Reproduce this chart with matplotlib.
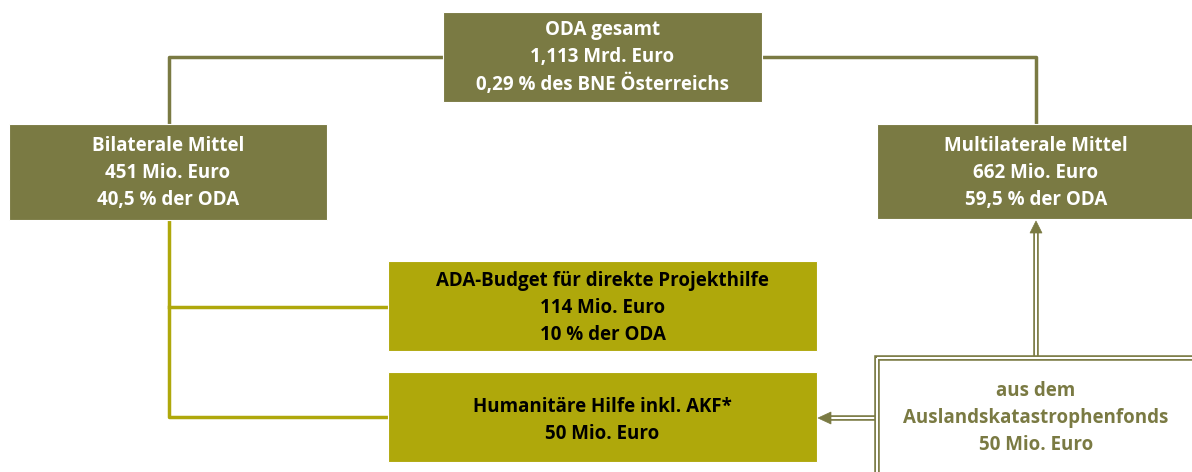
import matplotlib.pyplot as plt
from matplotlib.patches import Rectangle, Polygon

DARK = '#7a7a43'
YELLOW = '#afa80b'

# Texte der Kästen
oda_lines = ['ODA gesamt', '1,113 Mrd. Euro', '0,29 % des BNE Österreichs']
bilateral_lines = ['Bilaterale Mittel', '451 Mio. Euro', '40,5 % der ODA']
multilateral_lines = ['Multilaterale Mittel', '662 Mio. Euro', '59,5 % der ODA']
ada_lines = ['ADA-Budget für direkte Projekthilfe', '114 Mio. Euro', '10 % der ODA']
huma_lines = ['Humanitäre Hilfe inkl. AKF*', '50 Mio. Euro']
akf_lines = ['aus dem', 'Auslandskatastrophenfonds', '50 Mio. Euro']

W, H = 1192, 472
fig = plt.figure(figsize=(W / 100, H / 100), dpi=100)
ax = fig.add_axes([0, 0, 1, 1])
ax.set_xlim(0, W)
ax.set_ylim(H, 0)
ax.axis('off')

FONT = 'Open Sans'
FS = 13.5


def box(x0, y0, x1, y1, color, lines, tcolor, ys):
    ax.add_patch(Rectangle((x0, y0), x1 - x0, y1 - y0, facecolor=color,
                           edgecolor='white', lw=0.8, zorder=3))
    for s, y in zip(lines, ys):
        ax.text((x0 + x1) / 2, y, s, ha='center', va='center', color=tcolor,
                fontsize=FS, fontweight='bold', family=FONT, zorder=4)


def double_line(xs, ys):
    ax.plot(xs, ys, color=DARK, lw=4.0, solid_capstyle='butt', zorder=2)
    ax.plot(xs, ys, color='white', lw=1.5, solid_capstyle='butt', zorder=2)


# Verbindungslinien oben
ax.plot([443, 169, 169], [57, 57, 124], color=DARK, lw=2.5, zorder=1)
ax.plot([762, 1036, 1036], [57, 57, 124], color=DARK, lw=2.5, zorder=1)

# bilaterale Äste
ax.plot([169, 169, 388], [220, 417, 417], color=YELLOW, lw=2.5, zorder=1)
ax.plot([169, 388], [307, 307], color=YELLOW, lw=2.5, zorder=1)

box(443, 12, 762, 102, DARK, oda_lines, 'white', [30, 57, 84])
box(9, 124, 327, 220, DARK, bilateral_lines, 'white', [146, 173, 200])
box(877, 124, 1195, 219, DARK, multilateral_lines, 'white', [146, 173, 200])
box(388, 261, 817, 351, YELLOW, ada_lines, 'black', [281, 308, 335])
box(388, 372, 817, 462, YELLOW, huma_lines, 'black', [407, 434])

# AKF-Kasten mit Doppelrahmen
ax.add_patch(Rectangle((877, 358), 330, 130, facecolor='white', edgecolor=DARK,
                       lw=4.0, zorder=3))
ax.add_patch(Rectangle((877, 358), 330, 130, facecolor='none', edgecolor='white',
                       lw=1.5, zorder=3))
for s, y in zip(akf_lines, [391, 418, 445]):
    ax.text(1036, y, s, ha='center', va='center', color=DARK, fontsize=FS,
            fontweight='bold', family=FONT, zorder=4)

# Doppelpfeile
double_line([1036, 1036], [357, 232])
ax.add_patch(Polygon([[1030, 233], [1042, 233], [1036, 221]], closed=True,
                     facecolor=DARK, edgecolor=DARK, lw=0.5, zorder=3))
double_line([875, 830], [418, 418])
ax.add_patch(Polygon([[831, 412], [831, 424], [818, 418]], closed=True,
                     facecolor=DARK, edgecolor=DARK, lw=0.5, zorder=3))

fig.savefig('out.png', dpi=100)
